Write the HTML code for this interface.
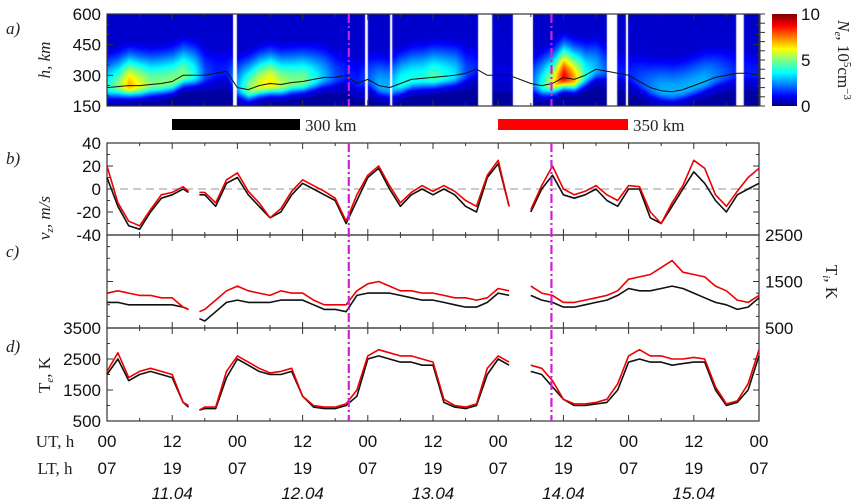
<!DOCTYPE html>
<html><head><meta charset="utf-8">
<style>
body{margin:0;background:#fff;width:864px;height:504px;overflow:hidden;position:relative;font-family:"Liberation Sans",sans-serif}
#hm{position:absolute;left:107px;top:14px}
svg{position:absolute;left:0;top:0}
.s{font-family:"Liberation Sans",sans-serif;font-size:17px;fill:#111}
.r{font-family:"Liberation Serif",serif;font-size:17px;fill:#222}
.i{font-family:"Liberation Serif",serif;font-style:italic;font-size:17px;fill:#222}
</style></head><body>
<canvas id="hm" width="652" height="92"></canvas>
<svg id="sv" width="864" height="504"></svg>
<script>
// ---- data (time in hours from 11.04 00 UT) ----
const times=[0,2,4,6,8,10,12,14,15,16,17,18,20,22,24,26,28,30,32,34,36,38,40,42,44,46,48,50,52,54,56,58,60,62,64,66,68,70,72,74,76,78,80,82,84,86,88,90,92,94,96,98,100,102,104,106,108,110,112,114,116,118,120];
const nePeak=[4,5,7,6,5,5,5,5,4.5,4,3,2,1.5,1.5,3,5,6,6.5,5.5,5,5,4,3,2,1.5,1.5,2,3,3,4,4,4,4.5,4,3.5,2,1.5,1,1,1,1,2,4,6,9,7,4,3,2,1.5,1.5,2,2.5,3,3,3,3,3,2.5,2,1.5,1.5,1.5];
const hmF2=[240,245,250,250,255,260,270,300,300,300,300,300,310,320,240,230,250,260,255,265,270,280,290,290,300,260,280,250,240,260,280,285,290,295,300,310,330,300,300,300,280,260,250,260,290,280,300,330,320,310,300,270,240,225,220,230,250,270,290,300,310,310,300];
const vzBlack=[10,-15,-32,-35,-20,-8,-5,0,-3,null,-5,-5,-15,5,10,-5,-15,-25,-20,-5,5,0,-5,-10,-30,-10,10,18,0,-15,-5,0,-5,0,-5,-15,-20,10,22,-15,null,-20,0,12,-5,-8,-5,0,-10,-15,0,0,-25,-30,-15,0,15,5,-10,-20,-5,0,5];
const vzRed=[20,-12,-28,-32,-18,-5,-3,2,-2,null,-3,-3,-12,8,14,-2,-12,-25,-17,-2,8,3,-2,-8,-28,-5,12,20,3,-12,-3,3,-2,3,-2,-10,-15,12,25,-15,null,-18,3,20,0,-5,-2,3,-5,-10,3,2,-20,-30,-12,3,25,18,-5,-15,-2,10,18];
const tiBlack=[1050,1050,1000,1000,1000,1000,1000,950,900,null,700,650,850,1050,1100,1050,1050,1050,1100,1100,1100,1000,900,900,850,1200,1250,1250,1250,1200,1150,1100,1100,1050,1000,950,950,1050,1250,1200,null,1200,1100,1050,950,950,1000,1050,1100,1200,1350,1300,1300,1350,1400,1350,1250,1150,1050,1000,900,950,1150];
const tiRed=[1250,1300,1250,1200,1200,1150,1150,950,900,null,850,900,1100,1300,1400,1300,1250,1200,1300,1250,1250,1100,1000,1000,1000,1300,1450,1500,1400,1300,1300,1250,1250,1200,1150,1150,1100,1150,1350,1300,null,1400,1250,1200,1050,1050,1100,1150,1200,1300,1550,1600,1650,1800,1950,1700,1650,1600,1400,1300,1100,1050,1200];
const teBlack=[2000,2500,1800,2000,2100,2000,1900,1100,950,null,850,900,900,1900,2500,2300,2100,2000,2000,2100,1300,950,900,900,1000,1300,2500,2600,2500,2400,2400,2300,2300,1100,950,900,1000,2000,2500,2300,null,2100,2000,1600,1200,1000,1000,1050,1100,1500,2400,2500,2400,2400,2300,2350,2400,2400,1500,1000,1100,1500,2600];
const teRed=[2100,2700,1900,2100,2200,2100,2000,1100,1000,null,850,950,950,2100,2600,2400,2200,2050,2100,2200,1300,1000,950,950,1050,1500,2600,2800,2700,2600,2600,2500,2400,1200,1000,950,1050,2200,2600,2400,null,2300,2200,1800,1200,1050,1050,1100,1200,1700,2600,2800,2600,2600,2500,2500,2550,2500,1600,1050,1150,1700,2800];
const gapsA=[[23.2,23.9],[47.5,48.0],[52.1,52.5],[68.3,70.9],[74.7,78.4],[92.0,93.9],[95.5,95.9],[115.8,117.2]];
const events=[44.5,81.8];
const utLabels=["00","12","00","12","00","12","00","12","00","12","00"];
const ltLabels=["07","19","07","19","07","19","07","19","07","19","07"];
const dates=["11.04","12.04","13.04","14.04","15.04"];

const NS="http://www.w3.org/2000/svg";
const sv=document.getElementById('sv');
const X0=107,X1=759;
const X=t=>X0+t*(X1-X0)/120;
const lin=(d0,d1,r0,r1)=>v=>r0+(v-d0)*(r1-r0)/(d1-d0);
const yA=lin(150,600,106,14), yB=lin(-40,40,235,143), yC=lin(500,2500,328,235), yD=lin(500,3500,421,328);
function mk(tag,attrs,parent){const e=document.createElementNS(NS,tag);for(const k in attrs)e.setAttribute(k,attrs[k]);(parent||sv).appendChild(e);return e;}
function txt(s,x,y,cls,anchor,name,rot){const e=mk('text',{x:x,y:y,class:cls,'text-anchor':anchor||'middle'});if(rot)e.setAttribute('transform',`rotate(${rot} ${x} ${y})`);e.textContent=s;


return e;}
function interp(arr,t){let i=0;while(i<times.length-2&&times[i+1]<=t)i++;const f=(t-times[i])/(times[i+1]-times[i]);const a=arr[i],b=arr[i+1];return a+(b-a)*f;}

// heatmap
(function(){const c=document.getElementById('hm').getContext('2d');const W=652,H=92;const img=c.createImageData(W,H);
const cl=v=>Math.max(0,Math.min(1,v));
for(let px=0;px<W;px++){const t=px*120/W;const p=interp(nePeak,t);const hm=interp(hmF2,t);
for(let py=0;py<H;py++){const h=600-py*450/H;const w=h<hm?50:150;let v=p*Math.exp(-Math.pow((h-hm)/w,2));
const floor=h<hm-80?0.3:0.7;v=Math.max(v,floor+(h>hm?0.2*Math.exp(-(h-hm)/200):0));const n=cl(v/10);
const k=(py*W+px)*4;img.data[k]=255*cl(1.5-Math.abs(4*n-3));img.data[k+1]=255*cl(1.5-Math.abs(4*n-2));img.data[k+2]=255*cl(1.5-Math.abs(4*n-1));img.data[k+3]=255;}}
c.putImageData(img,0,0);c.fillStyle='#fff';
gapsA.forEach(g=>{c.fillRect(X(g[0])-X0,0,X(g[1])-X(g[0]),H);});})();

function path(arr,ys,color,name,w){let d='';let pen=false;arr.forEach((v,i)=>{if(v===null){pen=false;return;}d+=(pen?'L':'M')+X(times[i]).toFixed(1)+' '+ys(v).toFixed(1);pen=true;});
const p=mk('path',{d:d,fill:'none',stroke:color,'stroke-width':w||1.6,'stroke-linejoin':'round'});


return p;}

path(hmF2,yA,'#111','hmf2-line',1);
const panels=[[14,106,'panel-a'],[143,235,'panel-b'],[235,328,'panel-c'],[328,421,'panel-d']];
panels.forEach(p=>{const r=mk('rect',{x:X0,y:p[0],width:X1-X0,height:p[1]-p[0],fill:'none',stroke:'#333','stroke-width':1.2});


for(let t=0;t<=120;t+=6){const len=t%12===0?6:3;mk('line',{x1:X(t),x2:X(t),y1:p[1],y2:p[1]-len,stroke:'#333'});mk('line',{x1:X(t),x2:X(t),y1:p[0],y2:p[0]+len,stroke:'#333'});}});
const z=mk('line',{x1:X0,x2:X1,y1:yB(0),y2:yB(0),stroke:'#aaa','stroke-dasharray':'8 5','stroke-width':1.2});


path(vzBlack,yB,'#111','vz-300km');path(vzRed,yB,'#e00','vz-350km');
path(tiBlack,yC,'#111','ti-300km');path(tiRed,yC,'#e00','ti-350km');
path(teBlack,yD,'#111','te-300km');path(teRed,yD,'#e00','te-350km');
events.forEach((t,i)=>{[[14,106],[143,421]].forEach(s=>{const l=mk('line',{x1:X(t),x2:X(t),y1:s[0],y2:s[1],stroke:'#d01fd6','stroke-width':2.2,'stroke-dasharray':'9 3 2 3'});

});});
function yaxis(vals,ys,x,anchor,nm){vals.forEach(v=>{txt(String(v),x,ys(v)+6,'s',anchor,nm+'-tick-'+v);});}
yaxis([600,450,300,150],yA,101,'end','a-y');
yaxis([40,20,0,-20,-40],yB,101,'end','b-y');
yaxis([3500,2500,1500,500],yD,101,'end','d-y');
yaxis([2500,1500,500],yC,765,'start','c-right-y');
[[yA,150,600,50],[yB,-40,40,10],[yD,500,3500,500],[yC,500,2500,250]].forEach((a,k)=>{for(let v=a[1];v<=a[2];v+=a[3]){const y=a[0](v);const major=(k==0&&v%150==0)||(k==1&&v%20==0)||(k>=2&&v%1000==500);const L=major?6:3;
mk('line',{x1:X0,x2:X0+L,y1:y,y2:y,stroke:'#333'});mk('line',{x1:X1,x2:X1-L,y1:y,y2:y,stroke:'#333'});}});
txt('h, km',50,60,'i','middle','h-axis-title',-90);
txt('v',50,218,'i','middle','vz-axis-title',-90).innerHTML='<tspan font-style="italic">v</tspan><tspan font-size="11" dy="3">z</tspan><tspan dy="-3">, m/s</tspan>';
txt('',50,375,'r','middle','te-axis-title',-90).innerHTML='T<tspan font-size="11" dy="3" font-style="italic">e</tspan><tspan dy="-3">, K</tspan>';
txt('',826,282,'r','middle','ti-axis-title',90).innerHTML='T<tspan font-size="11" dy="3" font-style="italic">i</tspan><tspan dy="-3">, K</tspan>';
['a)','b)','c)','d)'].forEach((s,i)=>txt(s,6,[34,164,257,352][i],'i','start','panel-label-'+s[0]));
const defs=mk('defs',{});const g=mk('linearGradient',{id:'jet',x1:0,y1:1,x2:0,y2:0},defs);
[['0','#00007f'],['0.11','#0000ff'],['0.36','#00ffff'],['0.5','#80ff80'],['0.62','#ffff00'],['0.87','#ff0000'],['1','#7f0000']].forEach(s=>mk('stop',{offset:s[0],'stop-color':s[1]},g));
const cb=mk('rect',{x:772,y:14,width:25,height:92,fill:'url(#jet)'});


for(let v=0;v<=10;v++){const y=106-v*9.2;mk('line',{x1:760,x2:765,y1:y,y2:y,stroke:'#333'});}
mk('line',{x1:760,x2:760,y1:14,y2:106,stroke:'#333'});
[10,5,0].forEach(v=>txt(String(v),801,106-v*9.2+6,'s','start','colorbar-tick-'+v));
txt('',838,60,'r','middle','colorbar-title',90).innerHTML='<tspan font-style="italic">N</tspan><tspan font-size="11" dy="3" font-style="italic">e</tspan><tspan dy="-3">, 10</tspan><tspan font-size="11" dy="-6">5</tspan><tspan dy="6">cm</tspan><tspan font-size="11" dy="-6">−3</tspan>';
[[172,300,'#000','300 km','legend-300km'],[498,628,'#f00','350 km','legend-350km']].forEach(b=>{const r=mk('rect',{x:b[0],y:119,width:b[1]-b[0],height:11,fill:b[2]});


txt(b[3],b[1]+5,131,'r','start',b[4]+'-label');});
utLabels.forEach((s,i)=>txt(s,X(i*12),447,'s','middle','ut-tick-'+i));
ltLabels.forEach((s,i)=>txt(s,X(i*12),474,'s','middle','lt-tick-'+i));
dates.forEach((s,i)=>{const e=txt(s,X(12+i*24),499,'s','middle','date-'+s);e.setAttribute('font-style','italic');});
txt('UT, h',55,447,'r','middle','ut-axis-title');txt('LT, h',55,474,'r','middle','lt-axis-title');
</script>
</body></html>
